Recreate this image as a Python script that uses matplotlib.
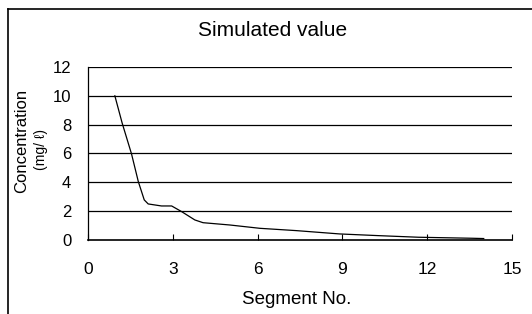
import numpy as np
import matplotlib.pyplot as plt
from matplotlib.lines import Line2D

plt.rcParams['font.family'] = ['Liberation Sans', 'DejaVu Sans']

# simulated concentration along the segments
segment = [0.95, 1.21, 1.54, 1.78, 1.99, 2.13, 2.6, 2.96, 3.31, 3.78, 4.07,
           5.02, 6.08, 7.37, 8.9, 10.3, 11.7, 13.6, 14.0]
concentration = [10.0, 8.1, 5.97, 4.05, 2.78, 2.5, 2.36, 2.36, 1.97, 1.39, 1.2,
                 1.04, 0.81, 0.65, 0.42, 0.3, 0.19, 0.12, 0.1]
x_ticks = [0, 3, 6, 9, 12, 15]
y_ticks = [0, 2, 4, 6, 8, 10, 12]

fig = plt.figure(figsize=(5.32, 3.14), dpi=100)
ax = fig.add_axes([0.1654, 0.2357, 0.797, 0.551])

ax.plot(segment, concentration, color='black', lw=0.9)

ax.set_xlim(0, 15)
ax.set_ylim(0, 12)
ax.set_xticks(x_ticks)
ax.set_yticks(y_ticks)
ax.tick_params(axis='x', direction='in', length=4, width=0.8, pad=16, labelsize=12.5)
ax.tick_params(axis='y', length=0, pad=12, labelsize=12)

for y in y_ticks[1:]:
    ax.axhline(y, color='black', lw=0.9)

ax.spines['top'].set_visible(False)
ax.spines['right'].set_visible(False)
ax.spines['left'].set_linewidth(0.9)
ax.spines['bottom'].set_linewidth(1.2)

fig.text(273 / 532, 1 - 31 / 314, 'Simulated value',
         ha='center', va='center', fontsize=15)
fig.text(297 / 532, 1 - 300 / 314, 'Segment No.',
         ha='center', va='center', fontsize=13.5)

fig.text(22 / 532, 1 - 141 / 314, 'Concentration', rotation=90,
         ha='center', va='center', fontsize=12)
fig.text(41 / 532, 1 - 150 / 314, '(mg/ ℓ)', rotation=90,
         ha='center', va='center', fontsize=10)

# border of the chart area (left and top edges)
fig.add_artist(Line2D([8 / 532, 8 / 532], [0, 1 - 9 / 314],
                      transform=fig.transFigure, color='black', lw=1.2))
fig.add_artist(Line2D([8 / 532, 1], [1 - 9 / 314, 1 - 9 / 314],
                      transform=fig.transFigure, color='black', lw=1.2))

fig.savefig('out.png', dpi=100)
